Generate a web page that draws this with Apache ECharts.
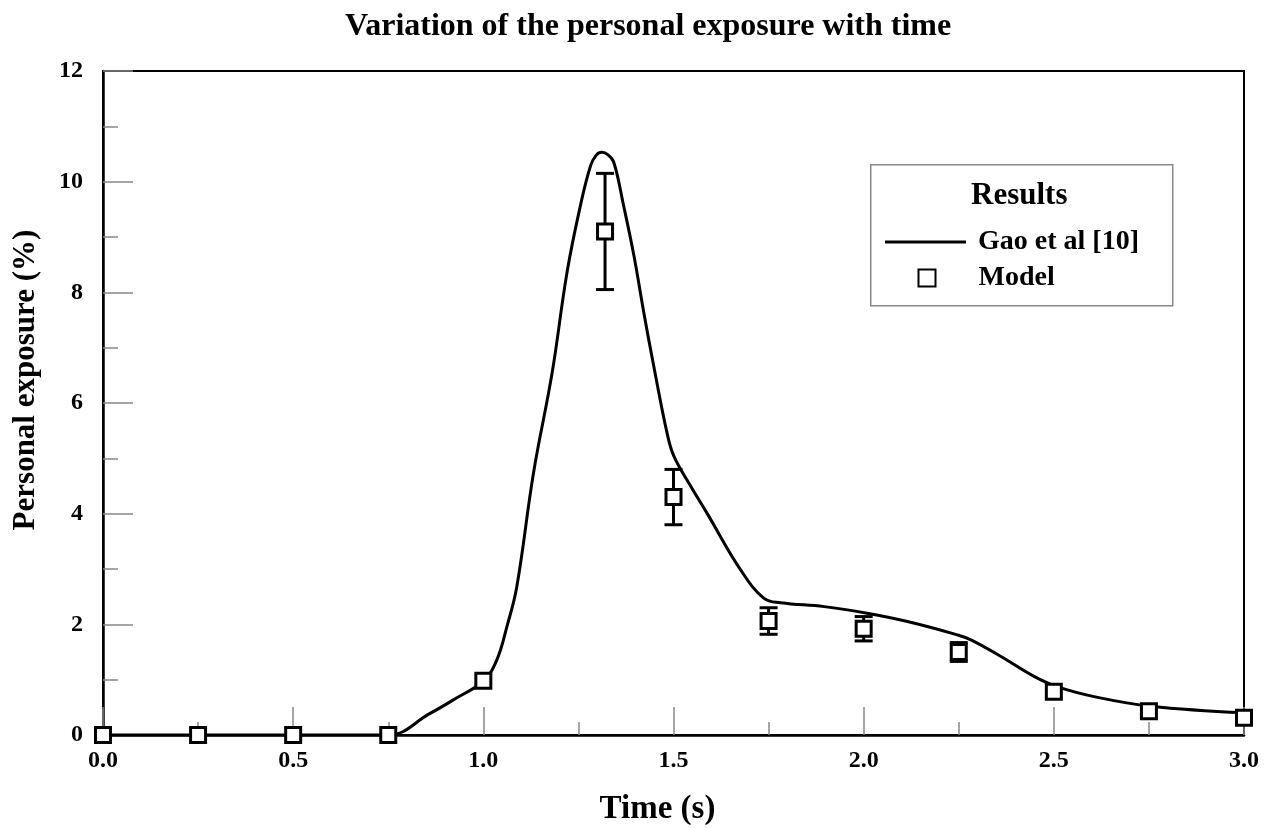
<!DOCTYPE html>
<html>
<head>
<meta charset="utf-8">
<script src="https://cdn.jsdelivr.net/npm/echarts@6/dist/echarts.min.js"></script>
<style>
html,body{margin:0;padding:0;background:#fff;}
#chart{width:1275px;height:828px;}
</style>
</head>
<body>
<div id="chart"></div>
<script>
// ---- data ----
const timeGao = [0, 0.25, 0.5, 0.75, 0.86, 0.92, 1.0, 1.035, 1.062, 1.088, 1.132, 1.181, 1.22, 1.255, 1.282, 1.297, 1.312, 1.327, 1.343, 1.369, 1.396, 1.422, 1.448, 1.483, 1.501, 1.545, 1.588, 1.676, 1.738, 1.782, 1.896, 2.009, 2.115, 2.246, 2.282, 2.361, 2.448, 2.51, 2.615, 2.755, 3.0];
const exposureGao = [0, 0, 0, 0, 0.39, 0.63, 0.98, 1.35, 1.96, 2.68, 4.74, 6.55, 8.36, 9.56, 10.29, 10.48, 10.53, 10.49, 10.35, 9.56, 8.66, 7.63, 6.67, 5.46, 5.04, 4.5, 4.01, 2.99, 2.47, 2.39, 2.32, 2.20, 2.05, 1.81, 1.72, 1.42, 1.06, 0.87, 0.68, 0.52, 0.40];

const timeModel = [0, 0.25, 0.5, 0.75, 1.0, 1.32, 1.5, 1.75, 2.0, 2.25, 2.5, 2.75, 3.0];
const exposureModel = [0, 0, 0, 0, 0.98, 9.1, 4.3, 2.06, 1.92, 1.5, 0.78, 0.43, 0.31];
const errorModel = [0, 0, 0, 0, 0, 1.05, 0.5, 0.24, 0.22, 0.17, 0, 0, 0];

const titleText = 'Variation of the personal exposure with time';
const xName = 'Time (s)';
const yName = 'Personal exposure (%)';
const legendTitle = 'Results';
const nameGao = 'Gao et al [10]';
const nameModel = 'Model';

// ---- build ----
const gaoData = timeGao.map((t, i) => [t, exposureGao[i]]);
const modelData = timeModel.map((t, i) => [t, exposureModel[i]]);
const errData = timeModel.map((t, i) => [t, exposureModel[i], errorModel[i]]);

const serif = '"Liberation Serif", "Times New Roman", serif';

const chart = echarts.init(document.getElementById('chart'), null, {renderer: 'canvas'});
chart.setOption({
  animation: false,
  backgroundColor: '#fff',
  title: {
    text: titleText,
    left: 340,
    top: 6,
    textStyle: {fontFamily: serif, fontWeight: 'bold', fontSize: 32, color: '#000'}
  },
  grid: {
    left: 103, right: 31, top: 71, bottom: 93,
    outerBoundsMode: 'none', containLabel: false,
    show: true, borderColor: '#000', borderWidth: 2, backgroundColor: 'transparent'
  },
  xAxis: {
    type: 'value', min: 0, max: 3, interval: 0.5,
    name: xName, nameLocation: 'middle', nameGap: 58,
    nameTextStyle: {fontFamily: serif, fontWeight: 'bold', fontSize: 33, color: '#000', padding: [0, 32, 0, 0]},
    axisLine: {show: true, lineStyle: {color: '#000', width: 2.5}},
    axisTick: {show: true, inside: true, length: 28, lineStyle: {color: '#888', width: 1.5}},
    minorTick: {show: true, splitNumber: 2, length: 13, lineStyle: {color: '#888', width: 1.5}},
    splitLine: {show: false},
    axisLabel: {fontFamily: serif, fontWeight: 'bold', fontSize: 24, color: '#000', margin: 14,
      formatter: v => v.toFixed(1)}
  },
  yAxis: {
    type: 'value', min: 0, max: 12, interval: 2,
    name: yName, nameLocation: 'middle', nameGap: 62,
    nameTextStyle: {fontFamily: serif, fontWeight: 'bold', fontSize: 31, color: '#000', padding: [0, 0, 0, 46]},
    axisLine: {show: true, lineStyle: {color: '#000', width: 2.5}},
    axisTick: {show: true, inside: true, length: 30, lineStyle: {color: '#888', width: 1.5}},
    minorTick: {show: true, splitNumber: 2, length: 15, lineStyle: {color: '#888', width: 1.5}},
    splitLine: {show: false},
    axisLabel: {fontFamily: serif, fontWeight: 'bold', fontSize: 24, color: '#000', margin: 20}
  },
  legend: [
    {
      data: [{name: nameGao, icon: 'rect'}], left: 885, top: 228, orient: 'vertical', padding: 0,
      itemWidth: 81, itemHeight: 3, selectedMode: false,
      itemStyle: {color: '#000'},
      textStyle: {fontFamily: serif, fontWeight: 'bold', fontSize: 28, color: '#000', padding: [0, 0, 0, 7]}
    },
    {
      data: [nameModel], left: 917.5, top: 264, orient: 'vertical', padding: 0,
      itemWidth: 17, itemHeight: 17, selectedMode: false,
      textStyle: {fontFamily: serif, fontWeight: 'bold', fontSize: 28, color: '#000', padding: [0, 0, 0, 38]}
    }
  ],
  graphic: [
    {
      type: 'rect', left: 870, top: 164, z: 0,
      shape: {width: 302, height: 141},
      style: {fill: '#fff', stroke: '#888', lineWidth: 1.5}
    },
    {
      type: 'text', left: 971, top: 180, z: 5,
      style: {text: legendTitle, font: 'bold 31px ' + serif, fill: '#000'}
    }
  ],
  series: [
    {
      name: nameGao, type: 'line', data: gaoData, symbol: 'none', smooth: 0.4,
      lineStyle: {color: '#000', width: 3}, itemStyle: {color: '#000'}, z: 2
    },
    {
      name: 'errorbars', type: 'custom', data: errData, z: 3, clip: false,
      renderItem: function (params, api) {
        const x = api.value(0), y = api.value(1), e = api.value(2);
        if (!(e > 0)) return null;
        const top = api.coord([x, y + e]);
        const bot = api.coord([x, y - e]);
        const hw = 9;
        const st = {stroke: '#000', lineWidth: 3};
        return {
          type: 'group',
          children: [
            {type: 'line', shape: {x1: top[0], y1: top[1], x2: bot[0], y2: bot[1]}, style: st},
            {type: 'line', shape: {x1: top[0] - hw, y1: top[1], x2: top[0] + hw, y2: top[1]}, style: st},
            {type: 'line', shape: {x1: bot[0] - hw, y1: bot[1], x2: bot[0] + hw, y2: bot[1]}, style: st}
          ]
        };
      }
    },
    {
      name: nameModel, type: 'scatter', data: modelData, symbol: 'rect', symbolSize: 15, clip: false,
      itemStyle: {color: '#fff', borderColor: '#000', borderWidth: 3, opacity: 1}, z: 4
    }
  ]
});
</script>
</body>
</html>
